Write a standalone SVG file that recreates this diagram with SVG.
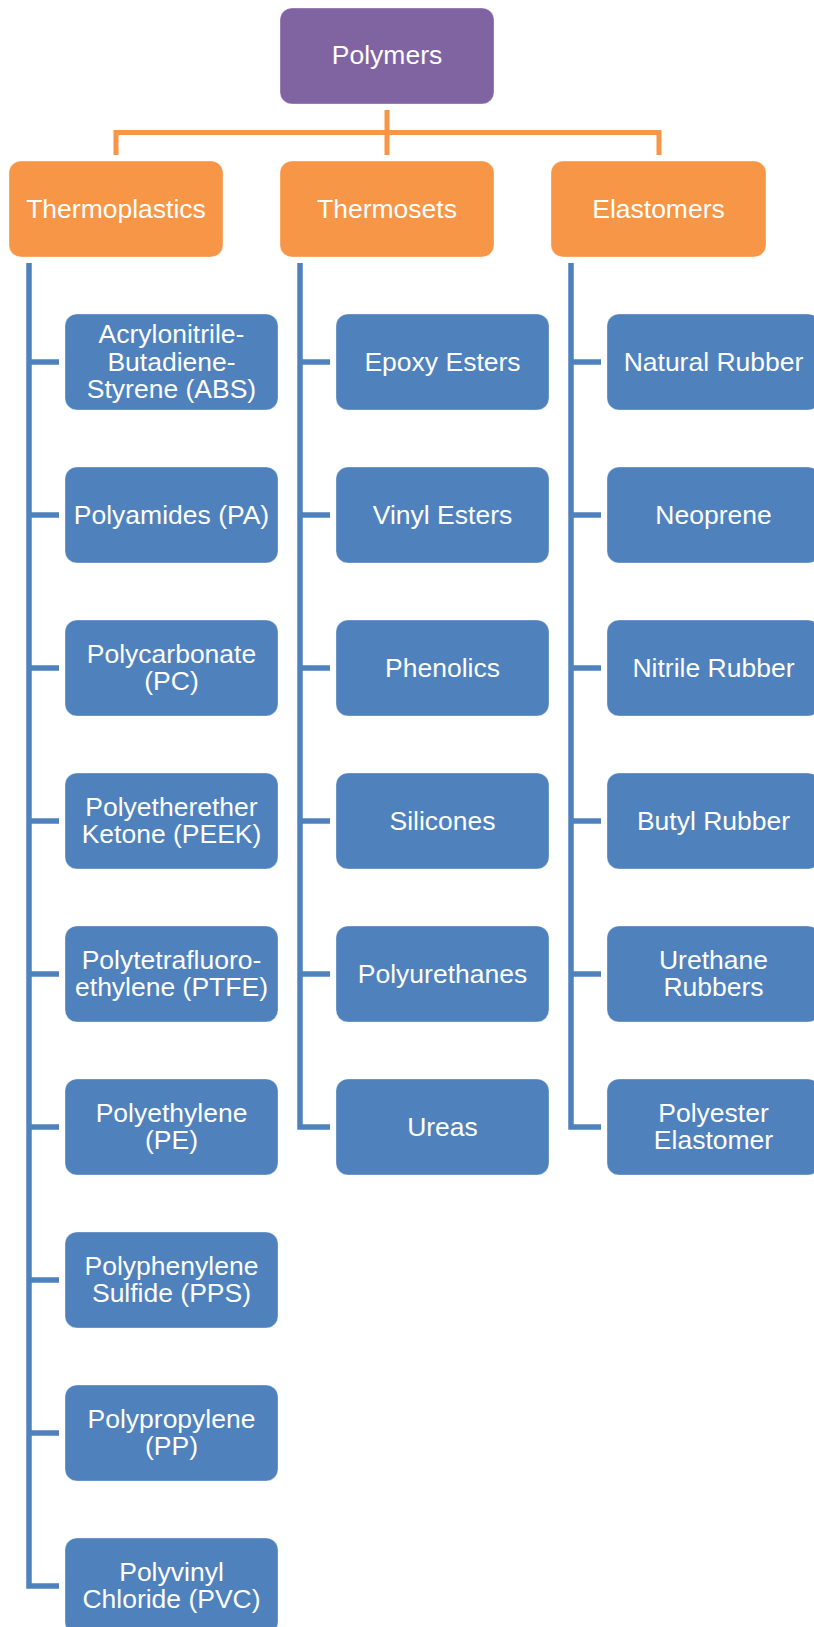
<svg xmlns="http://www.w3.org/2000/svg" width="814" height="1627" viewBox="0 0 814 1627">
<style>
.t{font-family:"Liberation Sans",Arial,sans-serif;font-size:26.5px;fill:#fff;text-anchor:middle}
rect.p,rect.o,rect.b{stroke:#fff;stroke-opacity:0.35;stroke-width:1}
.p{fill:#8064A2}
.o{fill:#F79646}
.b{fill:#4F81BD}
.oc{fill:none;stroke:#F79646;stroke-width:5}
.bc{fill:none;stroke:#4F81BD;stroke-width:5.5}
</style>
<rect width="814" height="1627" fill="#fff"/>
<g id="connectors">
<path class="oc" d="M387,110V155M116,155V132.5H659V155"/>
<path class="bc" d="M29,263V1586H59M29,362H59M29,515H59M29,668H59M29,821H59M29,974H59M29,1127H59M29,1280H59M29,1433H59"/>
<path class="bc" d="M300,263V1127H330M300,362H330M300,515H330M300,668H330M300,821H330M300,974H330"/>
<path class="bc" d="M571,263V1127H601M571,362H601M571,515H601M571,668H601M571,821H601M571,974H601"/>
</g>
<g id="polymers"><rect class="p" x="280" y="8" width="214" height="96" rx="12"/><text class="t" x="387" y="64">Polymers</text></g>
<g id="thermoplastics"><rect class="o" x="9" y="161" width="214" height="96" rx="12"/><text class="t" x="116" y="217.5">Thermoplastics</text></g>
<g id="thermosets"><rect class="o" x="280" y="161" width="214" height="96" rx="12"/><text class="t" x="387" y="217.5">Thermosets</text></g>
<g id="elastomers"><rect class="o" x="551" y="161" width="215" height="96" rx="12"/><text class="t" x="658.5" y="217.5">Elastomers</text></g>

<g id="abs"><rect class="b" x="65" y="314" width="213" height="96" rx="12"/><text class="t" x="171.5" y="343">Acrylonitrile-</text><text class="t" x="171.5" y="370.5">Butadiene-</text><text class="t" x="171.5" y="398">Styrene (ABS)</text></g>
<g id="pa"><rect class="b" x="65" y="467" width="213" height="96" rx="12"/><text class="t" x="171.5" y="523.5">Polyamides (PA)</text></g>
<g id="pc"><rect class="b" x="65" y="620" width="213" height="96" rx="12"/><text class="t" x="171.5" y="663">Polycarbonate</text><text class="t" x="171.5" y="690">(PC)</text></g>
<g id="peek"><rect class="b" x="65" y="773" width="213" height="96" rx="12"/><text class="t" x="171.5" y="816">Polyetherether</text><text class="t" x="171.5" y="843">Ketone (PEEK)</text></g>
<g id="ptfe"><rect class="b" x="65" y="926" width="213" height="96" rx="12"/><text class="t" x="171.5" y="969">Polytetrafluoro-</text><text class="t" x="171.5" y="996">ethylene (PTFE)</text></g>
<g id="pe"><rect class="b" x="65" y="1079" width="213" height="96" rx="12"/><text class="t" x="171.5" y="1122">Polyethylene</text><text class="t" x="171.5" y="1149">(PE)</text></g>
<g id="pps"><rect class="b" x="65" y="1232" width="213" height="96" rx="12"/><text class="t" x="171.5" y="1275">Polyphenylene</text><text class="t" x="171.5" y="1302">Sulfide (PPS)</text></g>
<g id="pp"><rect class="b" x="65" y="1385" width="213" height="96" rx="12"/><text class="t" x="171.5" y="1428">Polypropylene</text><text class="t" x="171.5" y="1455">(PP)</text></g>
<g id="pvc"><rect class="b" x="65" y="1538" width="213" height="96" rx="12"/><text class="t" x="171.5" y="1581">Polyvinyl</text><text class="t" x="171.5" y="1608">Chloride (PVC)</text></g>

<g id="epoxy"><rect class="b" x="336" y="314" width="213" height="96" rx="12"/><text class="t" x="442.5" y="370.5">Epoxy Esters</text></g>
<g id="vinyl"><rect class="b" x="336" y="467" width="213" height="96" rx="12"/><text class="t" x="442.5" y="523.5">Vinyl Esters</text></g>
<g id="phenolics"><rect class="b" x="336" y="620" width="213" height="96" rx="12"/><text class="t" x="442.5" y="676.5">Phenolics</text></g>
<g id="silicones"><rect class="b" x="336" y="773" width="213" height="96" rx="12"/><text class="t" x="442.5" y="829.5">Silicones</text></g>
<g id="polyurethanes"><rect class="b" x="336" y="926" width="213" height="96" rx="12"/><text class="t" x="442.5" y="982.5">Polyurethanes</text></g>
<g id="ureas"><rect class="b" x="336" y="1079" width="213" height="96" rx="12"/><text class="t" x="442.5" y="1135.5">Ureas</text></g>

<g id="natural"><rect class="b" x="607" y="314" width="213" height="96" rx="12"/><text class="t" x="713.5" y="370.5">Natural Rubber</text></g>
<g id="neoprene"><rect class="b" x="607" y="467" width="213" height="96" rx="12"/><text class="t" x="713.5" y="523.5">Neoprene</text></g>
<g id="nitrile"><rect class="b" x="607" y="620" width="213" height="96" rx="12"/><text class="t" x="713.5" y="676.5">Nitrile Rubber</text></g>
<g id="butyl"><rect class="b" x="607" y="773" width="213" height="96" rx="12"/><text class="t" x="713.5" y="829.5">Butyl Rubber</text></g>
<g id="urethane"><rect class="b" x="607" y="926" width="213" height="96" rx="12"/><text class="t" x="713.5" y="969">Urethane</text><text class="t" x="713.5" y="996">Rubbers</text></g>
<g id="polyester"><rect class="b" x="607" y="1079" width="213" height="96" rx="12"/><text class="t" x="713.5" y="1122">Polyester</text><text class="t" x="713.5" y="1149">Elastomer</text></g>
</svg>
